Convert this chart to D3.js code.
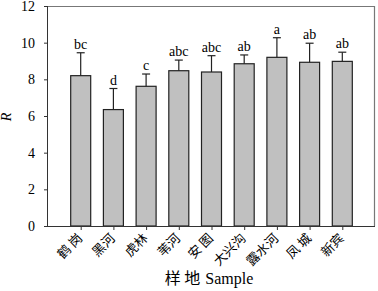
<!DOCTYPE html>
<html>
<head>
<meta charset="utf-8">
<script src="https://cdn.jsdelivr.net/npm/d3@7"></script>
<style>
  body { margin: 0; background: #fff; }
  svg { display: block; }
  .axis text { font-family: "Liberation Serif", "Times New Roman", serif; font-size: 14px; fill: #000; }
  .axis path, .axis line { stroke: #333; }
</style>
</head>
<body>
<div id="chart"></div>
<script>
// data
var sites = ["鹤 岗", "黑河", "虎林", "苇河", "安 图", "大兴沟", "露水河", "凤 城", "新宾"];
var means = [8.2, 6.35, 7.62, 8.47, 8.4, 8.85, 9.2, 8.93, 8.98];
var upper = [9.45, 7.5, 8.29, 9.05, 9.29, 9.33, 10.27, 9.97, 9.48];
var letters = ["bc", "d", "c", "abc", "abc", "ab", "a", "ab", "ab"];
var yTicks = [0, 2, 4, 6, 8, 10, 12];

// setup dimensions
var margin = {top: 6, right: 3, bottom: 65, left: 48},
    width = 378 - margin.left - margin.right,
    height = 291 - margin.top - margin.bottom;

var svg = d3.select("#chart").append("svg")
    .attr("width", 378)
    .attr("height", 291)
  .append("g")
    .attr("transform", "translate(" + margin.left + "," + margin.top + ")");

// scales
var x = d3.scaleLinear()
    .domain([0, sites.length + 1])
    .range([0, width]);
var y = d3.scaleLinear()
    .domain([0, 12])
    .range([height, 0]);
var barW = 20;

// frame top/right
svg.append("path")
    .attr("d", "M0,0.5H" + (width - 0.5) + "V" + height)
    .attr("fill", "none")
    .attr("stroke", "#777")
    .attr("stroke-width", 1.2);

// bars
svg.selectAll("rect.bar")
    .data(means)
  .enter().append("rect")
    .attr("class", "bar")
    .attr("x", function(d, i) { return x(i + 1) - barW / 2; })
    .attr("y", function(d) { return y(d); })
    .attr("width", barW)
    .attr("height", function(d) { return y(0) - y(d); })
    .attr("fill", "#c0c0c0")
    .attr("stroke", "#222")
    .attr("stroke-width", 1.2);

// error bars (upper only)
var err = svg.selectAll("g.err")
    .data(upper)
  .enter().append("g")
    .attr("class", "err")
    .attr("stroke", "#222")
    .attr("stroke-width", 1.2);
err.append("line")
    .attr("x1", function(d, i) { return x(i + 1); })
    .attr("x2", function(d, i) { return x(i + 1); })
    .attr("y1", function(d, i) { return y(means[i]); })
    .attr("y2", function(d) { return y(d); });
err.append("line")
    .attr("x1", function(d, i) { return x(i + 1) - 4; })
    .attr("x2", function(d, i) { return x(i + 1) + 4; })
    .attr("y1", function(d) { return y(d); })
    .attr("y2", function(d) { return y(d); });

// significance letters
svg.selectAll("text.sig")
    .data(letters)
  .enter().append("text")
    .attr("class", "sig")
    .attr("x", function(d, i) { return x(i + 1); })
    .attr("y", function(d, i) { return y(upper[i]) - 4; })
    .attr("text-anchor", "middle")
    .style("font-family", "'Liberation Serif', 'Times New Roman', serif")
    .style("font-size", "14px")
    .text(function(d) { return d; });

// y axis
svg.append("g")
    .attr("class", "axis")
    .call(d3.axisLeft(y).tickValues(yTicks).tickSize(4).tickPadding(9).tickFormat(d3.format("d")))
    .call(function(g) { g.select(".domain").attr("d", "M-0.5," + height + "V0"); });

// x axis
var xa = svg.append("g")
    .attr("class", "axis")
    .attr("transform", "translate(0," + height + ")")
    .call(d3.axisBottom(x).tickValues(d3.range(1, sites.length + 1)).tickSize(4).tickSizeOuter(0)
      .tickFormat(function(d) { return sites[d - 1]; }));
xa.select(".domain").attr("d", "M0,0.5H" + width);
xa.selectAll(".tick text")
    .attr("text-anchor", "end")
    .attr("dy", 0)
    .attr("x", 0)
    .attr("y", 0)
    .attr("transform", "translate(2,13) rotate(-45)")
    .style("font-family", "'Noto Sans CJK SC', sans-serif")
    .style("font-size", "13px");

// axis titles
svg.append("text")
    .attr("transform", "translate(-37," + (height / 2 + 1) + ") rotate(-90)")
    .attr("text-anchor", "middle")
    .style("font-family", "'Liberation Serif', serif")
    .style("font-style", "italic")
    .style("font-size", "14px")
    .text("R");
svg.append("text")
    .attr("x", 161)
    .attr("y", 278)
    .attr("text-anchor", "middle")
    .style("font-size", "16px")
    .html("<tspan style=\"font-family:'Noto Sans CJK SC'\">样 地</tspan><tspan dx=\"5\" style=\"font-family:'Liberation Serif'\">Sample</tspan>");
</script>
</body>
</html>
